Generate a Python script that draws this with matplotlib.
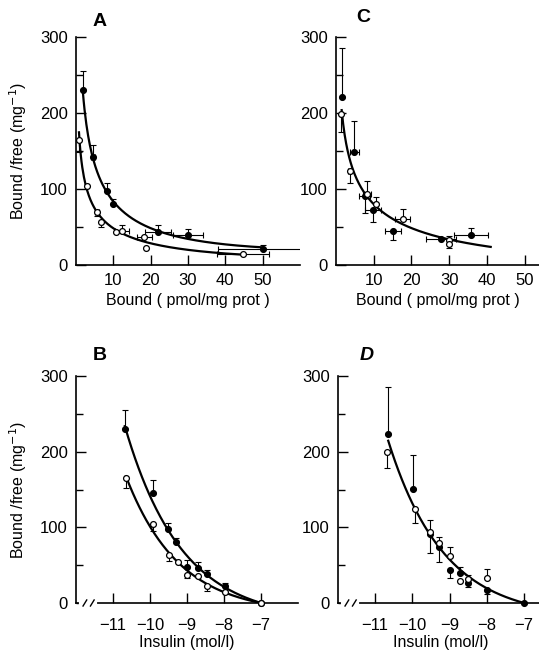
import numpy as np
import matplotlib.pyplot as plt

plt.rcParams['font.family'] = ['Liberation Sans Narrow', 'Liberation Sans', 'DejaVu Sans']

# ---- panel A : Scatchard, bound (pmol/mg prot) vs bound/free ----
a_fill_x = [1.8, 4.5, 8.4, 9.8, 22, 30, 50]
a_fill_y = [230, 142, 97, 80, 44, 39, 21]
a_fill_up = [25, 16, 11, 7, 8, 8, 5]
a_fill_dn = [0, 0, 0, 0, 0, 0, 0]
a_fill_xe = [0, 0.5, 0, 0, 3.4, 4, 12]

a_open_x = [0.9, 3.0, 5.7, 6.7, 10.7, 12.3, 18.3, 18.7, 44.7]
a_open_y = [165, 104, 70, 57, 44, 45, 37, 22, 15]
a_open_up = [0, 0, 0, 0, 0, 7, 0, 0, 0]
a_open_dn = [16, 0, 5, 7, 0, 0, 0, 0, 0]
a_open_xe = [0, 0, 0.5, 0, 0, 1.8, 2, 0, 7]

# ---- panel C ----
c_fill_x = [1.5, 4.8, 7.6, 9.8, 15.1, 27.9, 35.7]
c_fill_y = [221, 149, 91, 72, 45, 34, 39]
c_fill_up = [65, 41, 0, 0, 0, 0, 10]
c_fill_dn = [0, 0, 23, 15, 12, 0, 0]
c_fill_xe = [0, 1.2, 1.5, 2, 2, 4, 4.5]

c_open_x = [1.3, 3.6, 8.2, 10.5, 17.7, 30, 30]
c_open_y = [199, 124, 93, 80, 61, 33, 28]
c_open_up = [0, 0, 17, 9, 13, 5, 0]
c_open_dn = [24, 16, 0, 0, 0, 0, 5]
c_open_xe = [0, 0.5, 1, 0, 2, 0, 0]

# ---- panel B : bound/free vs log insulin ----
b_fill_x = [-10.68, -9.93, -9.51, -9.30, -9.0, -8.70, -8.45, -7.98, -7.0]
b_fill_y = [230, 146, 98, 80, 48, 46, 38, 23, 0]
b_fill_up = [25, 17, 8, 6, 9, 8, 6, 3, 0]
b_fill_dn = [0, 0, 0, 0, 0, 0, 0, 0, 0]

b_open_x = [-10.65, -9.93, -9.5, -9.25, -9.0, -8.70, -8.47, -7.98, -7.0]
b_open_y = [165, 104, 64, 54, 37, 36, 22, 15, 0]
b_open_up = [0, 0, 0, 0, 0, 0, 0, 0, 0]
b_open_dn = [13, 9, 8, 0, 4, 0, 6, 0, 0]

# ---- panel D ----
d_fill_x = [-10.65, -9.98, -9.52, -9.30, -9.0, -8.72, -8.5, -8.0, -7.0]
d_fill_y = [224, 151, 91, 74, 44, 40, 26, 17, 0]
d_fill_up = [61, 44, 0, 0, 0, 8, 0, 0, 0]
d_fill_dn = [0, 0, 25, 20, 11, 0, 5, 5, 0]

d_open_x = [-10.67, -9.94, -9.54, -9.28, -9.0, -8.72, -8.5, -8.0]
d_open_y = [200, 124, 94, 79, 62, 29, 32, 33]
d_open_up = [0, 0, 16, 8, 12, 0, 5, 12]
d_open_dn = [22, 18, 0, 0, 0, 0, 0, 0]

y_label = 'Bound /free (mg$^{-1}$)'
bound_label = 'Bound ( pmol/mg prot )'
insulin_label = 'Insulin (mol/l)'
minus_labels = ['\u221211', '\u221210', '\u22129', '\u22128', '\u22127']


def logx_fit(x, y, x0, x1, deg=2):
    # smooth curve: polynomial in log(x)
    p = np.polyfit(np.log(x), y, deg)
    xs = np.linspace(x0, x1, 200)
    return xs, np.polyval(p, np.log(xs))


def zero_end_fit(x, y, x0, x_end=-7.0):
    # y = a*(exp(k*u) - 1) with u = x_end - x, reaches 0 at x_end
    u = x_end - np.asarray(x, float)
    y = np.asarray(y, float)
    best = None
    for k in np.linspace(0.05, 2.0, 400):
        f = np.exp(k * u) - 1
        a = np.dot(f, y) / np.dot(f, f)
        r = np.sum((a * f - y) ** 2)
        if best is None or r < best[0]:
            best = (r, k, a)
    _, k, a = best
    xs = np.linspace(x0, x_end, 200)
    return xs, a * (np.exp(k * (x_end - xs)) - 1)


def points(ax, x, y, up, dn, filled, xe=None):
    ax.errorbar(x, y, yerr=[dn, up], xerr=xe, fmt='none', ecolor='black',
                elinewidth=0.8, capsize=2.2, capthick=0.8, zorder=3)
    ax.plot(x, y, 'o', ms=4.2, mew=0.9, mec='black',
            mfc='black' if filled else 'white', zorder=4, clip_on=False)


def style(ax, xlim, xticks, xpad=6):
    ax.set_xlim(*xlim)
    ax.set_ylim(0, 300)
    for s in ['top', 'right']:
        ax.spines[s].set_visible(False)
    for s in ['left', 'bottom']:
        ax.spines[s].set_linewidth(1.2)
    ax.set_yticks([0, 100, 200, 300])
    ax.set_yticks([50, 150, 250], minor=True)
    ax.set_xticks(xticks)
    ax.tick_params(which='major', direction='in', length=7, width=1.0,
                   labelsize=12)
    ax.tick_params(axis='y', which='major', pad=6)
    ax.tick_params(axis='x', which='major', pad=xpad)
    ax.tick_params(which='minor', direction='in', length=5, width=1.0)


def axis_break(ax):
    ax.plot([-11.86, -11.48], [0, 0], color='white', lw=3, clip_on=False, zorder=5)
    for xb in [-11.76, -11.56]:
        ax.plot([xb - 0.05, xb + 0.05], [-4, 4], color='black', lw=1.0,
                clip_on=False, zorder=6)


fig = plt.figure(figsize=(5.39, 6.56), dpi=100)

axA = fig.add_axes([0.141, 0.596, 0.4156, 0.3476])
axC = fig.add_axes([0.6234, 0.596, 0.378, 0.3476])
axB = fig.add_axes([0.141, 0.0808, 0.412, 0.346])
axD = fig.add_axes([0.627, 0.0808, 0.380, 0.346])

# A
xs, ys = logx_fit(a_fill_x, a_fill_y, a_fill_x[0], a_fill_x[-1])
axA.plot(xs, ys, color='black', lw=1.6, zorder=2)
xs, ys = logx_fit(a_open_x, a_open_y, 0.8, a_open_x[-1])
axA.plot(xs, ys, color='black', lw=1.6, zorder=2)
points(axA, a_fill_x, a_fill_y, a_fill_up, a_fill_dn, True, a_fill_xe)
points(axA, a_open_x, a_open_y, a_open_up, a_open_dn, False, a_open_xe)
style(axA, (0, 60), [10, 20, 30, 40, 50])
axA.set_xlabel(bound_label, fontsize=11.5, labelpad=3)
axA.set_ylabel(y_label, fontsize=11.5, labelpad=8)

# C
xs, ys = logx_fit(c_fill_x + c_open_x, c_fill_y + c_open_y, 1.5, 41)
axC.plot(xs, ys, color='black', lw=1.6, zorder=2)
points(axC, c_fill_x, c_fill_y, c_fill_up, c_fill_dn, True, c_fill_xe)
points(axC, c_open_x, c_open_y, c_open_up, c_open_dn, False, c_open_xe)
style(axC, (0, 54), [10, 20, 30, 40, 50])
axC.set_xlabel(bound_label, fontsize=11.5, labelpad=3)

# B
xs, ys = zero_end_fit(b_fill_x, b_fill_y, b_fill_x[0])
axB.plot(xs, ys, color='black', lw=1.6, zorder=2)
xs, ys = zero_end_fit(b_open_x, b_open_y, b_open_x[0])
axB.plot(xs, ys, color='black', lw=1.6, zorder=2)
points(axB, b_fill_x, b_fill_y, b_fill_up, b_fill_dn, True)
points(axB, b_open_x, b_open_y, b_open_up, b_open_dn, False)
style(axB, (-12, -6), [-11, -10, -9, -8, -7], xpad=11)
axB.set_xticklabels(minus_labels)
axis_break(axB)
axB.set_xlabel(insulin_label, fontsize=11.5, labelpad=1)
axB.set_ylabel(y_label, fontsize=11.5, labelpad=8)

# D
xs, ys = zero_end_fit(d_fill_x + d_open_x, d_fill_y + d_open_y, -10.65)
axD.plot(xs, ys, color='black', lw=1.6, zorder=2)
points(axD, d_fill_x, d_fill_y, d_fill_up, d_fill_dn, True)
points(axD, d_open_x, d_open_y, d_open_up, d_open_dn, False)
style(axD, (-12, -6.5), [-11, -10, -9, -8, -7], xpad=11)
axD.set_xticklabels(minus_labels)
axis_break(axD)
axD.set_xlabel(insulin_label, fontsize=11.5, labelpad=1)

fig.text(100 / 539, 1 - 22 / 656, 'A', fontsize=14, fontweight='bold', ha='center', va='center')
fig.text(363 / 539, 1 - 18 / 656, 'C', fontsize=14, fontweight='bold', ha='center', va='center')
fig.text(100 / 539, 1 - 355 / 656, 'B', fontsize=14, fontweight='bold', ha='center', va='center')
fig.text(367 / 539, 1 - 355 / 656, 'D', fontsize=14, fontweight='bold', style='italic',
         ha='center', va='center')

fig.savefig('out.png', dpi=100)
